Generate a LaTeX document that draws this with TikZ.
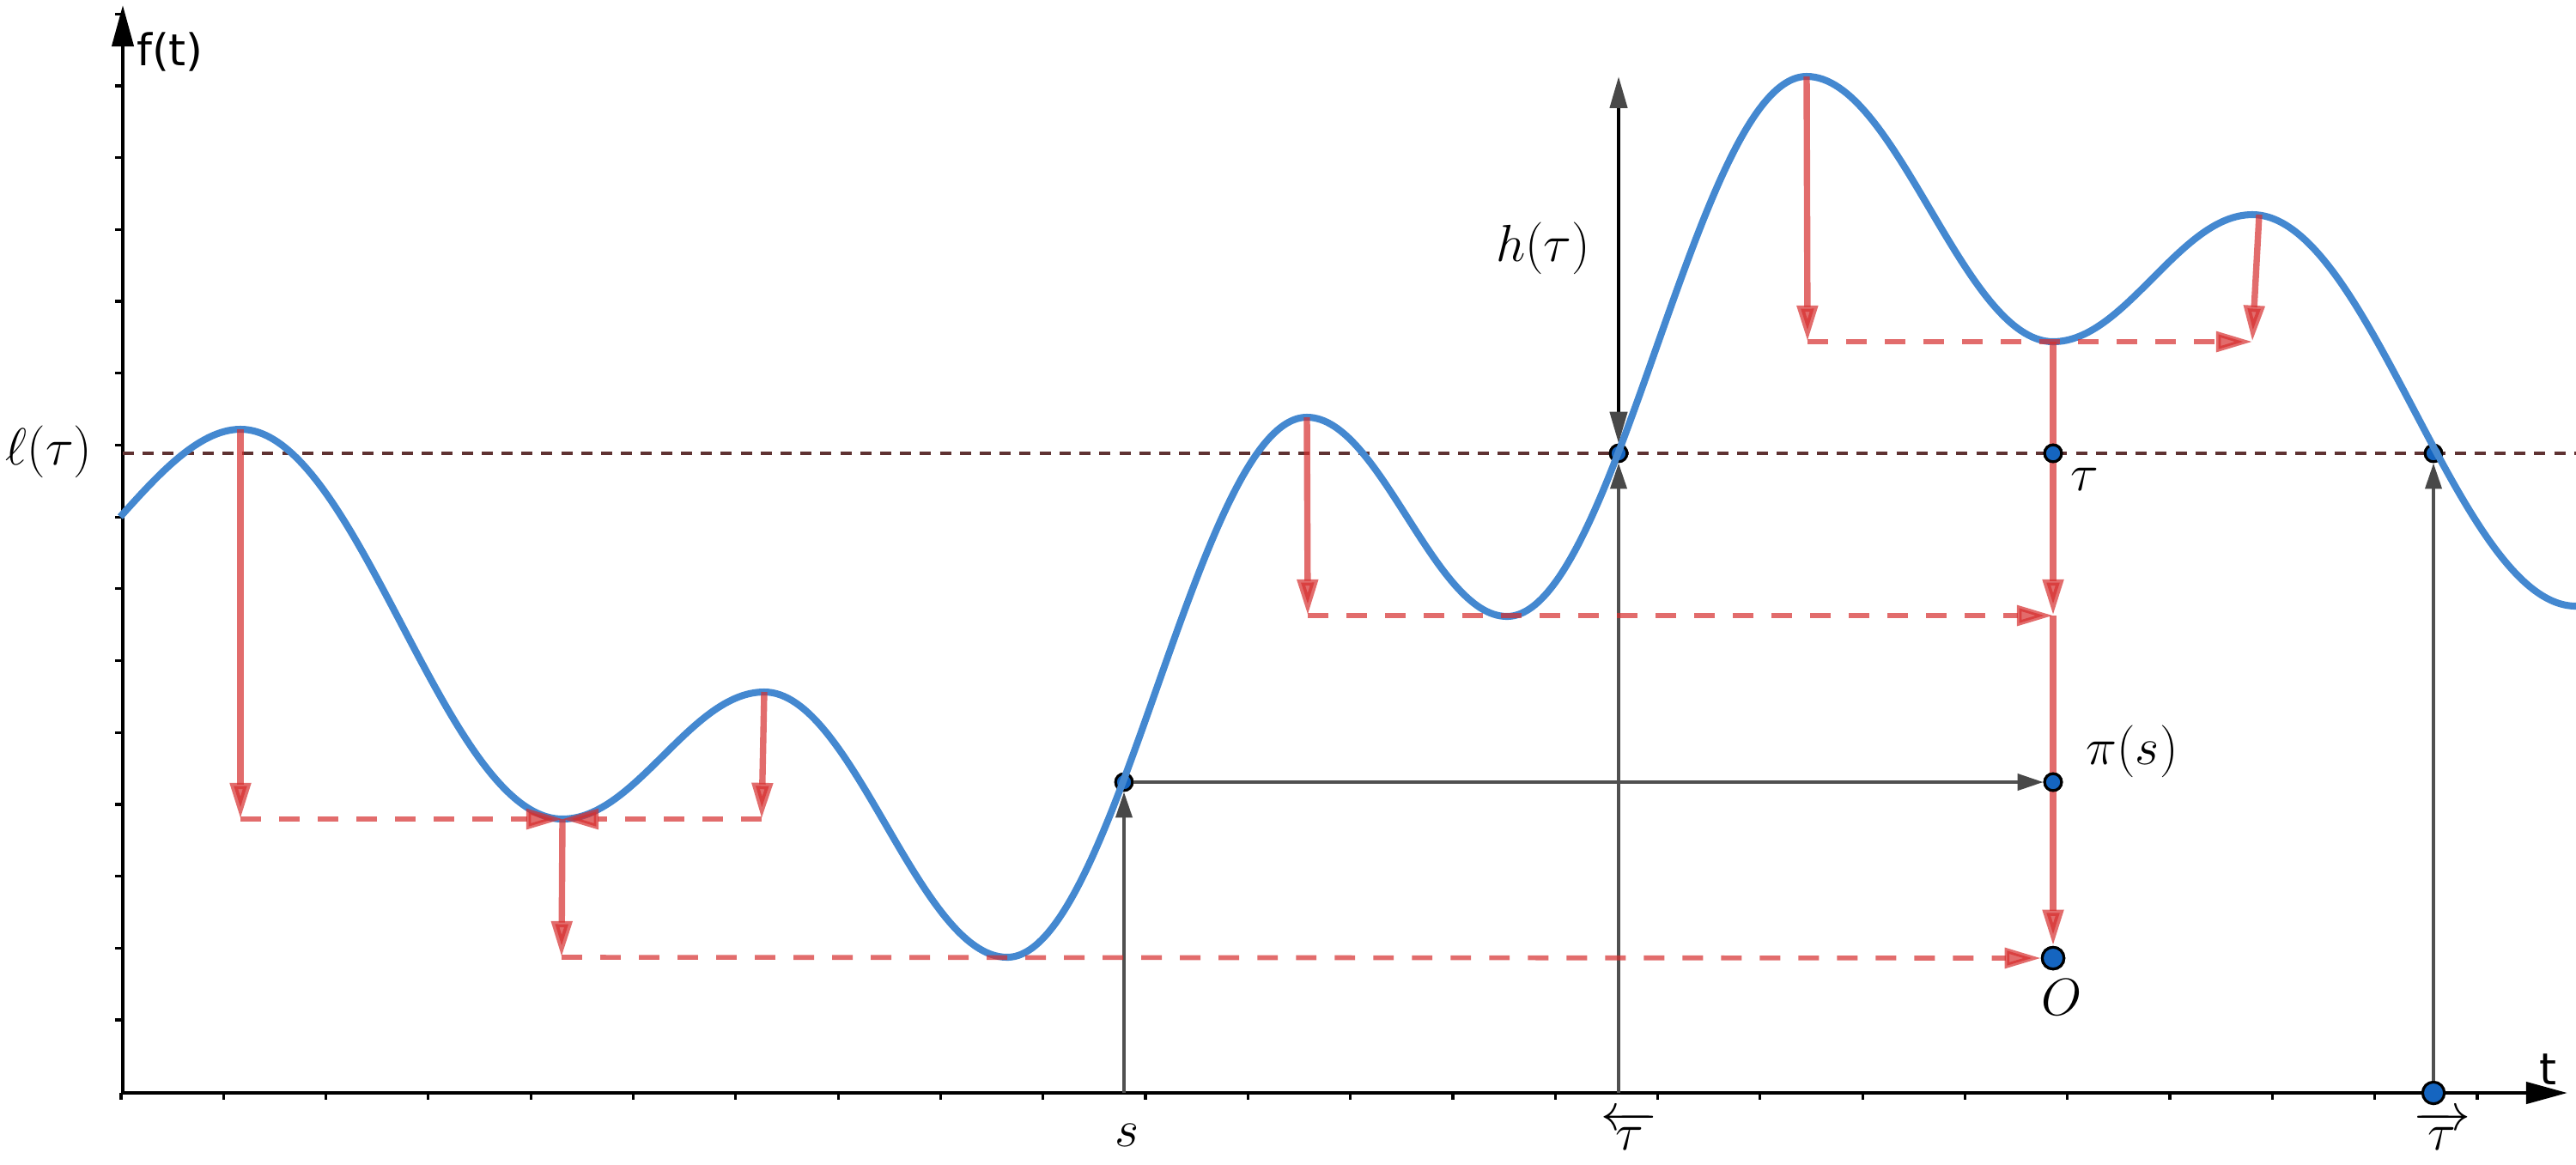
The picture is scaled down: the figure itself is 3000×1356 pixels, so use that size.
\documentclass[tikz,border=0pt]{standalone}
\usepackage{fontspec}
\newfontfamily\axfont{DejaVu Sans}
\usetikzlibrary{arrows.meta}
\definecolor{curveblue}{RGB}{68,136,208}
\definecolor{redarr}{RGB}{214,45,45}
\definecolor{levelc}{RGB}{95,50,50}
\definecolor{grayln}{RGB}{80,80,80}
\definecolor{grayhead}{RGB}{72,72,72}
\definecolor{dotfill}{RGB}{21,101,192}
\begin{document}
\begin{tikzpicture}[x=0.01cm,y=-0.01cm,
  axisln/.style={line width=1.3pt,black,-{Triangle[length=13.7pt,width=7.1pt]}},
  tickln/.style={line width=0.9pt,black},
  levelln/.style={levelc,line width=1.1pt,dash pattern=on 3.7pt off 2.9pt},
  curveln/.style={curveblue,line width=2.3pt},
  redsolid/.style={redarr,opacity=0.7,line width=2.1pt,-{Triangle[length=12pt,width=6.6pt]}},
  reddash/.style={redarr,opacity=0.7,line width=1.6pt,dash pattern=on 6.8pt off 6pt,-{Triangle[length=12pt,width=6.6pt]}},
  grayarrow/.style={grayln,line width=1.1pt,-{Triangle[length=8.5pt,width=5.4pt,color=grayhead]}},
  harrow/.style={black,line width=1.2pt,{Triangle[length=10.5pt,width=5.7pt,color=grayhead]}-{Triangle[length=10.5pt,width=5.7pt,color=grayhead]}},
  smalldot/.style={circle,draw=black,fill=dotfill,line width=0.9pt,inner sep=0pt,minimum size=5.6pt},
  bigdot/.style={circle,draw=black,fill=dotfill,line width=0.9pt,inner sep=0pt,minimum size=7.2pt},
  lab/.style={font=\fontsize{17.28}{21}\selectfont,inner sep=0pt},
  axlab/.style={font=\axfont\fontsize{14.5}{17}\selectfont,inner sep=0pt}]
\useasboundingbox (0,0) rectangle (3000,1356);

% axes
\coordinate (xstart) at (141,1273);
\coordinate (xend) at (2990,1273);
\coordinate (ystart) at (143,1275);
\coordinate (yend) at (143,6);
\foreach \k in {0,...,23} \draw[tickln] ({141+119.3*\k},1273) -- ++(0,8);
\foreach \j in {0,...,14} \draw[tickln] (143,{1188-83.7*\j}) -- ++(-9,0);
\draw[axisln] (xstart) -- (xend);
\draw[axisln] (ystart) -- (yend);

% level line
\coordinate (lvA) at (143,528);
\coordinate (lvB) at (3000,528);
\draw[levelln] (lvA) -- (lvB);

% extrema
\coordinate (P1) at (280,500);
\coordinate (V1) at (655,954);
\coordinate (P2) at (890,806);
\coordinate (V2) at (1173,1115);
\coordinate (P3) at (1522,486);
\coordinate (V3) at (1755,718);
\coordinate (P4) at (2104,89);
\coordinate (V4) at (2391,398);
\coordinate (P5) at (2623,250);

% points
\node[smalldot] (S) at (1309,911) {};
\node[smalldot] (TL) at (1885,528) {};
\node[smalldot] (TR) at (2834,528) {};
\node[smalldot] (T) at (2391,528) {};
\node[smalldot] (PI) at (2391,911) {};
\node[bigdot] (O) at (2391,1116) {};
\node[bigdot] (TRX) at (2834,1273) {};

% gray / black arrows
\coordinate (sbase) at (1309,1273);
\coordinate (tlbase) at (1885,1273);
\coordinate (htop) at (1885,89);
\draw[grayarrow] (sbase) -- (S);
\draw[grayarrow] (tlbase) -- (TL);
\draw[grayarrow] (TRX) -- (TR);
\draw[grayarrow] (S) -- (PI);
\draw[harrow] (TL) -- (htop);

% curve
\draw[curveln] (140,602) .. controls (180,558) and (230,500) .. (P1)
  .. controls (416.6,500) and (518.4,954) .. (V1)
  .. controls (740.6,954) and (804.4,806) .. (P2)
  .. controls (993.1,806) and (1069.9,1115) .. (V2)
  .. controls (1300.1,1115) and (1394.9,486) .. (P3)
  .. controls (1606.9,486) and (1670.1,718) .. (V3)
  .. controls (1882.1,718) and (1976.9,89) .. (P4)
  .. controls (2208.5,89) and (2286.5,398) .. (V4)
  .. controls (2475.5,398) and (2538.5,250) .. (P5)
  .. controls (2760,250) and (2863,706) .. (3000,706);

% red arrows
\coordinate (a1e) at (280,954);
\coordinate (a2s) at (890,806);
\coordinate (a2e) at (887,954);
\coordinate (a3e) at (654,1115);
\coordinate (a4e) at (1523,717);
\coordinate (a5e) at (2105,398);
\coordinate (a6s) at (2631,250);
\coordinate (a6e) at (2623,398);
\coordinate (L3) at (2391,717);
\draw[redsolid] (P1) -- (a1e);
\draw[reddash] (a1e) -- (V1);
\draw[redsolid] (a2s) -- (a2e);
\draw[reddash] (a2e) -- (V1);
\draw[redsolid] (V1) -- (a3e);
\draw[reddash] (a3e) -- (O);
\draw[redsolid] (P3) -- (a4e);
\draw[reddash] (a4e) -- (L3);
\draw[redsolid] (P4) -- (a5e);
\draw[reddash] (a5e) -- (a6e);
\draw[redsolid] (a6s) -- (a6e);
\draw[redsolid] (V4) -- (L3);
\draw[redsolid] (L3) -- (O);

% redraw dots on top
\node[smalldot] at (T) {};
\node[smalldot] at (PI) {};
\node[bigdot] at (O) {};

% labels
\node[lab] (lell) at (57,526) {$\ell(\tau)$};
\node[lab] (lh) at (1797,289) {$h(\tau)$};
\node[lab] (ltau) at (2428,558) {$\tau$};
\node[lab] (lpi) at (2483,875) {$\pi(s)$};
\node[lab] (lO) at (2401,1162) {$O$};
\node[lab] (ls) at (1312,1322) {$s$};
\node[lab] (ltl) at (1898,1317) {$\overleftarrow{\;\tau\;}$};
\node[lab] (ltr) at (2844,1317) {$\overrightarrow{\;\tau\;}$};
\node[axlab] (lft) at (198,60) {f(t)};
\node[axlab] (lt) at (2967,1246) {t};
\end{tikzpicture}
\end{document}
